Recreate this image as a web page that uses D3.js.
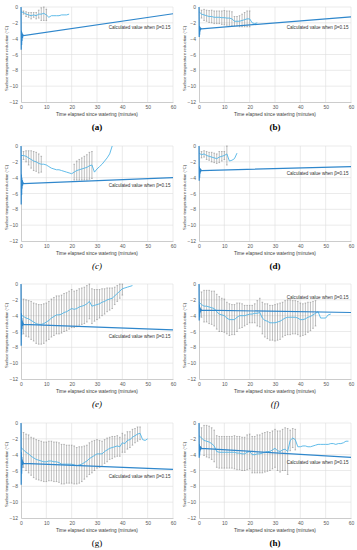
<!DOCTYPE html>
<html>
<head>
<meta charset="utf-8">
<script src="https://cdn.jsdelivr.net/npm/d3@7"></script>
<style>
  body { margin: 0; background: #fff; }
  svg { display: block; }
</style>
</head>
<body>
<div id="chart"></div>
<script>
// ---- data ----
var panelNames = ['(a)', '(b)', '(c)', '(d)', '(e)', '(f)', '(g)', '(h)'];
var xTicks = [0, 10, 20, 30, 40, 50, 60];
var yTicks = [0, -2, -4, -6, -8, -10, -12];
var calcLabel = 'Calculated value when \u03b2=0.15';

// time points of the calculated curve (minutes)
var calcTime = [0, 0.08, 0.16, 0.24, 0.32, 0.4, 0.5, 0.6, 0.75, 1, 60];
var calcA = [0, -5.4, -3.0, -4.8, -3.2, -4.3, -3.4, -3.9, -3.5, -3.6, -0.85];
var calcB = [0, -3.8, -2.4, -3.5, -2.5, -3.1, -2.6, -2.9, -2.7, -2.75, -1.25];
var calcC = [0, -7.4, -3.6, -6.2, -4.0, -5.4, -4.3, -5.0, -4.6, -4.75, -4.0];
var calcD = [0, -4.4, -2.6, -4.0, -2.8, -3.5, -2.9, -3.3, -3.0, -3.1, -2.6];
var calcE = [0, -7.8, -3.7, -6.4, -4.3, -5.7, -4.6, -5.3, -4.9, -5.1, -5.8];
var calcF = [0, -4.6, -2.6, -4.2, -2.9, -3.7, -3.1, -3.5, -3.2, -3.3, -3.6];
var calcG = [0, -7.8, -3.7, -6.4, -4.3, -5.7, -4.6, -5.3, -4.9, -5.1, -5.85];
var calcH = [0, -4.4, -2.7, -4.1, -2.9, -3.6, -3.0, -3.4, -3.1, -3.2, -4.35];

// measured means, one per minute from t = 0
var measA = [-0.6, -0.7, -0.9, -1.0, -1.1, -1.0, -1.1, -0.9, -0.9, -0.8, -1.0, -1.3, -1.1, -1.1, -1.1, -1.1, -1.0, -1.0, -1.0, -0.9];
var measB = [-0.6, -0.9, -1.0, -1.1, -1.2, -1.2, -1.3, -1.3, -1.3, -1.35, -1.35, -1.4, -1.4, -1.5, -1.8, -1.8, -1.8, -1.7, -1.6, -1.5, -1.5, -2.0, -2.1, -2.0];
var measC = [-1.2, -1.2, -1.3, -1.5, -1.7, -1.9, -2.0, -2.2, -2.3, -2.3, -2.4, -2.6, -2.8, -2.9, -3.0, -3.0, -3.1, -3.2, -3.3, -3.4, -3.5, -3.3, -3.1, -3.0, -2.9, -2.8, -2.7, -2.5, -2.4, -3.3, -2.9, -2.6, -2.3, -1.9, -1.5, -1.0, 0];
var measD = [-0.9, -1.1, -1.0, -1.2, -1.3, -1.4, -1.5, -1.6, -1.4, -1.3, -1.2, -1.0, -1.9, -1.8, -1.6, -0.9];
var measE = [-3.9, -4.1, -4.3, -4.4, -4.6, -4.8, -5.0, -5.1, -5.1, -5.0, -4.8, -4.6, -4.3, -4.1, -3.9, -3.9, -3.8, -3.6, -3.5, -3.3, -3.1, -3.2, -3.1, -2.9, -2.8, -2.7, -2.5, -2.2, -2.8, -2.7, -2.6, -2.5, -2.3, -2.2, -2.0, -1.9, -1.8, -1.5, -1.2, -0.9, -0.6, -0.5, -0.4, -0.3, -0.2];
var measF = [-2.3, -2.6, -2.8, -2.8, -2.9, -3.0, -3.1, -3.5, -3.8, -3.9, -4.0, -4.3, -4.5, -4.5, -4.5, -4.2, -4.0, -4.0, -4.0, -3.9, -3.8, -3.8, -3.7, -3.7, -3.6, -4.3, -4.6, -4.7, -4.9, -4.9, -4.9, -4.8, -4.7, -4.5, -4.3, -4.2, -4.2, -4.2, -4.2, -4.3, -4.5, -4.5, -4.4, -4.2, -4.1, -3.9, -3.7, -3.5, -4.3, -4.3, -4.3, -3.9, -3.8];
var measG = [-3.1, -3.4, -3.7, -3.9, -4.2, -4.4, -4.6, -4.7, -4.8, -4.9, -4.9, -4.8, -4.8, -4.9, -4.9, -5.0, -5.2, -5.2, -5.2, -5.2, -5.2, -5.3, -5.4, -5.3, -5.2, -5.0, -4.8, -4.5, -4.3, -4.1, -3.9, -3.9, -3.9, -3.6, -3.4, -3.2, -3.1, -3.0, -2.9, -3.0, -2.5, -2.6, -2.2, -2.1, -1.8, -1.6, -1.4, -1.3, -2.1, -2.2, -2.0];
var measH = [-1.6, -1.9, -2.2, -2.3, -2.4, -2.6, -2.9, -3.6, -3.7, -3.7, -3.7, -3.7, -3.7, -3.7, -3.7, -3.8, -3.8, -3.9, -3.9, -3.7, -3.6, -4.0, -4.0, -3.9, -3.9, -3.8, -3.7, -3.6, -3.6, -3.4, -3.2, -3.5, -3.6, -3.4, -3.3, -3.6, -2.2, -1.9, -2.1, -3.0, -3.0, -2.9, -2.9, -3.0, -3.0, -2.9, -2.8, -2.7, -2.7, -2.7, -2.7, -2.7, -2.6, -2.6, -2.7, -2.6, -2.6, -2.5, -2.3, -2.3];

// half length of the error bars, one per minute (0 = no bar)
var errA = [0, 0.2, 0.3, 0.3, 0.4, 0.3, 0.4, 0.5, 0.8, 0.9, 0.7];
var errB = [0, 0.5, 0.7, 0.7, 0.75, 0.8, 0.8, 0.8, 0.8, 0.85, 0.9, 0.9, 0.9, 0.9, 0.6, 0.6, 0.7, 0.8, 0.9, 1.0, 1.0];
var errC = [0, 0.5, 0.7, 0.9, 1.1, 1.2, 1.2, 1.2, 1.0, 0, 0, 0, 0, 0, 0, 0, 0, 0, 0, 0, 0, 1.0, 1.2, 1.3, 1.4, 1.5, 1.6, 1.7, 1.7];
var errD = [0, 0.4, 0.4, 0.5, 0.5, 0.6, 0.6, 0.6, 0.7, 0.6, 0.5, 1.4];
var errE = [0, 2.2, 2.3, 2.3, 2.4, 2.4, 2.5, 2.5, 2.5, 2.5, 2.4, 2.4, 2.4, 2.4, 2.4, 2.4, 2.4, 2.4, 2.4, 2.4, 2.4, 2.3, 2.3, 2.3, 2.3, 2.3, 2.3, 2.2, 2.2, 2.0, 1.9, 1.8, 1.7, 1.6, 1.5, 1.4, 1.3, 1.1, 1.0, 0.9, 0.8];
var errF = [0, 1.6, 2.0, 2.0, 2.1, 2.1, 2.2, 2.2, 2.2, 2.1, 2.1, 2.0, 2.0, 1.9, 1.9, 1.8, 1.6, 1.5, 1.3, 1.2, 1.1, 1.1, 1.2, 1.6, 1.8, 2.0, 2.1, 2.2, 2.2, 2.2, 2.3, 2.3, 2.3, 2.2, 2.2, 2.2, 2.2, 2.1, 2.1, 2.1, 2.1, 2.0, 2.0, 1.9, 1.8, 1.7, 1.6];
var errG = [0, 2.2, 2.3, 2.4, 2.4, 2.5, 2.5, 2.5, 2.5, 2.5, 2.5, 2.5, 2.5, 2.5, 2.5, 2.5, 2.5, 2.5, 2.4, 2.4, 2.4, 2.4, 2.3, 2.3, 2.2, 2.1, 2.0, 2.0, 2.0, 1.9, 1.8, 1.7, 1.6, 1.5, 1.5, 1.4, 1.4, 1.3, 1.3, 1.2, 1.2, 1.1, 1.1, 1.0, 1.0, 0.9, 0.9, 0.8];
var errH = [0, 1.3, 1.9, 2.0, 2.0, 2.0, 2.0, 2.0, 2.0, 2.0, 2.0, 2.0, 2.0, 2.0, 2.1, 2.1, 2.1, 2.1, 2.1, 2.2, 2.2, 2.3, 2.3, 2.4, 2.4, 2.5, 2.5, 2.5, 2.4, 2.4, 2.4, 2.5, 2.6, 2.6, 2.7, 2.9, 1.3, 1.2, 1.3];

// where the beta label sits (value on the y axis)
var labelY = [-2.6, -2.6, -5.0, -3.5, -6.6, -1.7, -6.7, -5.0];

var calcs = [calcA, calcB, calcC, calcD, calcE, calcF, calcG, calcH];
var meass = [measA, measB, measC, measD, measE, measF, measG, measH];
var errs = [errA, errB, errC, errD, errE, errF, errG, errH];

// ---- layout ----
var width = 357, height = 550;
var plotW = 152, plotH = 95;
var colX = [21, 199];
var rowY = [7, 146, 284, 423];

var svg = d3.select('#chart')
    .append('svg')
    .attr('width', width)
    .attr('height', height);

var calcColor = '#2f87cc';
var measColor = '#4fb4e6';

panelNames.forEach(function(name, i) {
    var g = svg.append('g')
        .attr('transform', 'translate(' + colX[i % 2] + ',' + rowY[Math.floor(i / 2)] + ')');

    var x = d3.scaleLinear().domain([0, 60]).range([0, plotW]);
    var y = d3.scaleLinear().domain([-12, 0]).range([plotH, 0]);

    // gridlines
    g.append('g').selectAll('line.h')
        .data(yTicks.slice(0, -1))
        .enter().append('line')
        .attr('x1', 0).attr('x2', plotW)
        .attr('y1', function(d) { return y(d); })
        .attr('y2', function(d) { return y(d); })
        .attr('stroke', '#dedede').attr('stroke-width', 0.6);
    g.append('g').selectAll('line.v')
        .data(xTicks.slice(1))
        .enter().append('line')
        .attr('y1', 0).attr('y2', plotH)
        .attr('x1', function(d) { return x(d); })
        .attr('x2', function(d) { return x(d); })
        .attr('stroke', '#dedede').attr('stroke-width', 0.6);

    // axes
    var xaxis = d3.axisBottom(x).tickValues(xTicks).tickSize(0).tickPadding(3.5);
    var yaxis = d3.axisLeft(y).tickValues(yTicks).tickSize(0).tickPadding(3);
    var gx = g.append('g').attr('transform', 'translate(0,' + plotH + ')').call(xaxis);
    var gy = g.append('g').call(yaxis);
    [gx, gy].forEach(function(a) {
        a.select('.domain').attr('stroke', '#bfbfbf').attr('stroke-width', 0.8);
        a.selectAll('text')
            .attr('fill', '#595959')
            .attr('font-family', 'Liberation Sans, Arial, sans-serif')
            .attr('font-size', 5);
    });

    // axis titles
    g.append('text')
        .attr('x', plotW / 2).attr('y', plotH + 14)
        .attr('text-anchor', 'middle')
        .attr('font-family', 'Liberation Sans, Arial, sans-serif')
        .attr('font-size', 4.8).attr('fill', '#404040')
        .text('Time elapsed since watering (minutes)');
    g.append('text')
        .attr('transform', 'translate(-13,' + (plotH / 2 + 4) + ') rotate(-90)')
        .attr('text-anchor', 'middle')
        .attr('font-family', 'Liberation Sans, Arial, sans-serif')
        .attr('font-size', 4.2).attr('fill', '#404040')
        .text('Surface temperature reduction (\u00b0C)');

    // panel label
    var bold = (name === '(a)' || name === '(b)' || name === '(d)' || name === '(h)');
    g.append('text')
        .attr('x', plotW / 2).attr('y', plotH + 28)
        .attr('text-anchor', 'middle')
        .attr('font-family', 'Liberation Serif, Times New Roman, serif')
        .attr('font-size', 9)
        .attr('font-weight', bold ? 'bold' : 'normal')
        .attr('font-style', (name === '(c)' || name === '(e)' || name === '(f)') ? 'italic' : 'normal')
        .attr('fill', '#000')
        .text(name);

    // error bars
    var ebars = errs[i].map(function(e, t) { return { t: t, m: meass[i][t], e: e }; })
        .filter(function(d) { return d.e > 0; });
    var eg = g.append('g').attr('stroke', '#7f7f7f').attr('stroke-width', 0.5);
    eg.selectAll('line.bar').data(ebars).enter().append('line')
        .attr('x1', function(d) { return x(d.t); }).attr('x2', function(d) { return x(d.t); })
        .attr('y1', function(d) { return y(Math.min(0, d.m + d.e)); })
        .attr('y2', function(d) { return y(d.m - d.e); });
    eg.selectAll('line.top').data(ebars).enter().append('line')
        .attr('x1', function(d) { return x(d.t) - 0.8; }).attr('x2', function(d) { return x(d.t) + 0.8; })
        .attr('y1', function(d) { return y(Math.min(0, d.m + d.e)); })
        .attr('y2', function(d) { return y(Math.min(0, d.m + d.e)); });
    eg.selectAll('line.bot').data(ebars).enter().append('line')
        .attr('x1', function(d) { return x(d.t) - 0.8; }).attr('x2', function(d) { return x(d.t) + 0.8; })
        .attr('y1', function(d) { return y(d.m - d.e); })
        .attr('y2', function(d) { return y(d.m - d.e); });

    // measured line
    var line = d3.line()
        .x(function(d) { return x(d[0]); })
        .y(function(d) { return y(d[1]); });
    g.append('path')
        .datum(meass[i].map(function(v, t) { return [t, v]; }))
        .attr('d', line)
        .attr('fill', 'none')
        .attr('stroke', measColor)
        .attr('stroke-width', 0.9);

    // calculated line
    g.append('path')
        .datum(calcTime.map(function(t, k) { return [t, calcs[i][k]]; }))
        .attr('d', line)
        .attr('fill', 'none')
        .attr('stroke', calcColor)
        .attr('stroke-width', 1.2);

    g.append('text')
        .attr('x', x(59)).attr('y', y(labelY[i]) + 1.7)
        .attr('text-anchor', 'end')
        .attr('font-family', 'Liberation Sans, Arial, sans-serif')
        .attr('font-size', 4.6).attr('fill', '#333')
        .text(calcLabel);
});
</script>
</body>
</html>
